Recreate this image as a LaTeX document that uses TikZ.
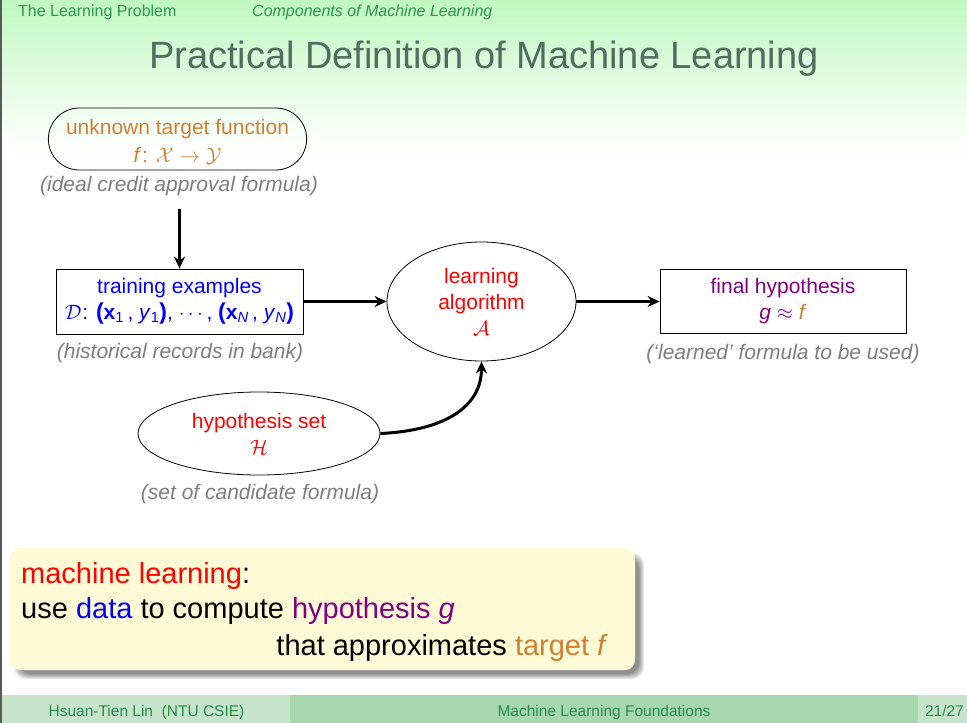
\documentclass[tikz,border=0pt]{standalone}
\usepackage{fontspec}
\setmainfont{Liberation Sans}
\usetikzlibrary{arrows.meta,shapes.geometric,shapes.misc}
\definecolor{bgtop}{RGB}{192,248,192}
\definecolor{footL}{RGB}{197,228,201}
\definecolor{footM}{RGB}{166,215,173}
\definecolor{headgreen}{RGB}{45,150,85}
\definecolor{footgreen}{RGB}{40,140,80}
\definecolor{titlecol}{RGB}{80,110,95}
\definecolor{tan}{RGB}{204,128,51}
\definecolor{mypurple}{RGB}{128,0,128}
\definecolor{lblgray}{RGB}{125,125,125}
\definecolor{boxyellow}{RGB}{255,250,214}
\newcommand{\bp}[1]{{\fontsize{23}{23}\selectfont\bfseries #1}}
\begin{document}
\begin{tikzpicture}[x=1pt,y=-1pt,
  txt/.style={font=\fontsize{21}{26}\selectfont, align=center, inner sep=0pt},
  lbl/.style={font=\fontsize{21}{25}\selectfont\itshape, text=lblgray, inner sep=0pt},
  conn/.style={line width=3pt, -{Stealth[length=12pt,width=11pt]}},
  frame/.style={draw=black, line width=0.8pt},
  head/.style={font=\fontsize{16}{18}\selectfont, text=headgreen, inner sep=0pt},
  foot/.style={font=\fontsize{15.5}{18}\selectfont, text=footgreen, inner sep=0pt},
  big/.style={font=\fontsize{29}{34}\selectfont, inner sep=0pt}
]
\useasboundingbox (0,0) rectangle (967,723);
% background
\shade[top color=bgtop, bottom color=white] (0,0) rectangle (967,150);
\fill[footL] (0,695) rectangle (290,723);
\fill[footM] (290,695) rectangle (918,723);
\fill[footL] (918,695) rectangle (967,723);
\draw[line width=2pt, black!65] (1,0) -- (1,723);

% header
\node[head, anchor=base west] (sec) at (18,16) {The Learning Problem};
\node[head, anchor=base west] (subsec) at (252,16) {\itshape Components of Machine Learning};
\node[font=\fontsize{38}{42}\selectfont, text=titlecol, anchor=base, inner sep=0pt] (title) at (484,68) {Practical Definition of Machine Learning};

% nodes
\node[frame, rounded rectangle, minimum width=265pt, minimum height=62pt] (target) at (177.5,139) {};
\node[txt, text=tan, font=\fontsize{21}{28}\selectfont] (ttarget) at (177.5,142)
  {unknown target function\\ \textit{f}\kern1pt: $\mathcal{X}\rightarrow\mathcal{Y}$};
\node[lbl, anchor=base] (ltarget) at (179,191) {(ideal credit approval formula)};

\node[frame, rectangle, minimum width=247pt, minimum height=65pt, txt, text=blue] (train) at (179.5,301.5)
  {training examples\\ $\mathcal{D}$\kern1pt: \bp{(}\textbf{x}\textsubscript{1}\,, \textit{y}\textsubscript{1}\bp{)}, $\cdots$\,, \bp{(}\textbf{x}\textsubscript{\itshape N}\,, \textit{y}\textsubscript{\itshape N}\bp{)}};
\node[lbl, anchor=base] (ltrain) at (180,358) {(historical records in bank)};

\node[frame, ellipse, minimum width=189pt, minimum height=119pt, txt, text=red] (learn) at (481.5,301.5)
  {learning\\ algorithm\\ $\mathcal{A}$};

\node[frame, rectangle, minimum width=246pt, minimum height=64pt, txt, text=mypurple] (final) at (783,301.5)
  {final hypothesis\\ \textit{g} $\approx$ \textcolor{tan}{\textit{f}}};
\node[lbl, anchor=base] (lfinal) at (783,359) {(`learned' formula to be used)};

\node[frame, ellipse, minimum width=242pt, minimum height=83pt, txt, text=red] (hyp) at (259,433.5)
  {hypothesis set\\ $\mathcal{H}$};
\node[lbl, anchor=base] (lhyp) at (260,499) {(set of candidate formula)};

% connectors
\coordinate (s1) at (179.5,209);
\draw[conn] (s1) -- (train.north);
\draw[conn] (train.east) -- (train.east -| learn.west);
\draw[conn] (learn.east) -- (learn.east -| final.west);
\draw[conn] (hyp.east) .. controls +(65,-3) and +(0,45) .. (learn.south);

% summary box with shadow
\foreach \k in {0,1,2,3,4,5}
  \fill[black, opacity=0.09, rounded corners=12pt] (14+\k,553+\k) rectangle (644-\k,679-\k);
\node[rectangle, rounded corners=10pt, fill=boxyellow, minimum width=625pt, minimum height=122pt, inner sep=0pt] (mlbox) at (322.5,609) {};
\node[big, anchor=base west] (m1) at (21,583) {\textcolor{red}{machine learning}:};
\node[big, anchor=base west] (m2) at (21,618) {use \textcolor{blue}{data} to compute \textcolor{mypurple}{hypothesis \textit{g}}};
\node[big, anchor=base east] (m3) at (608,655) {that approximates \textcolor{tan}{target \textit{f}}};

% footer
\node[foot, anchor=base] (fauthor) at (146.5,716) {Hsuan-Tien Lin\ \ (NTU CSIE)};
\node[foot, anchor=base] (fcourse) at (604,716) {Machine Learning Foundations};
\node[foot, anchor=base east] (fpage) at (964,716) {21/27};
\end{tikzpicture}
\end{document}
